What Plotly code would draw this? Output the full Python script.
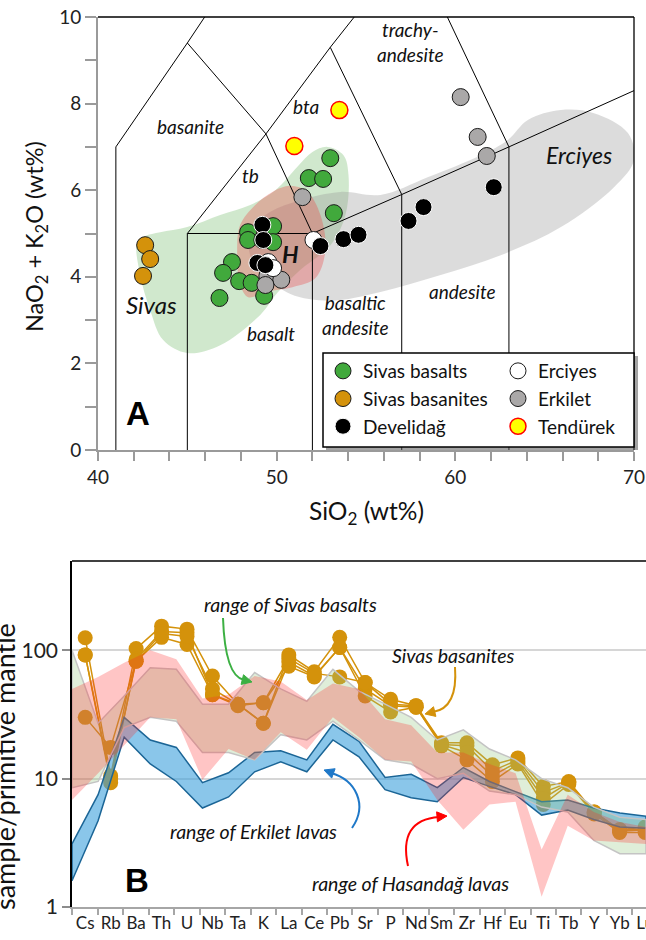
import math
import plotly.graph_objects as go

W, H = 646, 940
def PX(x): return x / W
def PY(y): return 1 - y / H

FONT = "Lato"

# ---------------- Panel A data (TAS) ----------------
SIVAS_BAS_SIO2 = [53.0, 51.8, 52.6, 53.2, 48.4, 49.8, 48.4, 49.2, 49.8, 47.5, 47.0, 47.9, 48.6, 49.3, 46.8, 49.5]
SIVAS_BAS_ALK = [6.74, 6.28, 6.26, 5.47, 5.03, 5.17, 4.85, 4.85, 4.80, 4.34, 4.09, 3.90, 3.86, 3.56, 3.51, 4.16]
SIVAS_BSN_SIO2 = [42.64, 42.92, 42.52]
SIVAS_BSN_ALK = [4.73, 4.41, 4.02]
DEVELI_SIO2 = [49.20, 49.25, 48.92, 49.37, 52.45, 53.74, 54.58, 57.38, 58.22, 62.15]
DEVELI_ALK = [5.20, 4.85, 4.32, 4.27, 4.71, 4.87, 4.97, 5.29, 5.61, 6.07]
ERCIYES_SIO2 = [52.06, 49.53, 49.80]
ERCIYES_ALK = [4.85, 4.34, 4.20]
ERKILET_SIO2 = [51.44, 60.30, 61.25, 61.76, 49.65, 49.48, 50.26, 49.37]
ERKILET_ALK = [5.84, 8.15, 7.23, 6.79, 4.23, 4.02, 3.93, 3.81]
TENDUREK_SIO2 = [50.99, 53.51]
TENDUREK_ALK = [7.02, 7.85]

# field boundaries (SiO2, alkali)
TAS_LINES = [
    [(41, 0), (41, 7), (45, 9.4), (48.4, 11.5)],
    [(45, 0), (45, 5), (52, 5), (57, 5.9), (63, 7), (70, 8.3)],
    [(45, 5), (49.4, 7.3), (53, 9.3), (57.6, 11.7)],
    [(45, 9.4), (49.4, 7.3), (52, 5)],
    [(52, 0), (52, 5)],
    [(57, 0), (57, 5.9)],
    [(63, 0), (63, 7)],
    [(53, 9.3), (57, 5.9)],
    [(57.6, 11.7), (63, 7)],
]

# shaded fields
GREEN_FIELD = [(42.19, 4.78), (42.36, 4.04), (42.92, 3.23), (43.65, 2.54), (44.99, 2.24), (46.84, 2.42),
               (49.08, 3.12), (50.04, 3.63), (51.33, 4.16), (53.01, 4.73), (53.85, 5.43), (54.02, 6.35),
               (53.74, 6.81), (52.84, 7.00), (52.00, 6.88), (51.16, 6.54), (49.93, 6.00), (48.52, 5.66),
               (46.84, 5.43), (44.99, 5.15), (43.48, 5.03), (42.64, 4.94)]
GRAY_FIELD = [(48.52, 5.08), (49.65, 5.50), (51.33, 5.77), (53.57, 5.96), (55.81, 5.89), (58.45, 6.30),
              (61.42, 6.81), (62.94, 7.16), (64.06, 7.62), (65.91, 7.85), (67.76, 7.78), (69.66, 7.32),
              (70.0, 6.70), (68.88, 6.07), (65.91, 5.15), (62.54, 4.50), (59.18, 4.04), (55.81, 3.65),
              (53.01, 3.45), (50.77, 3.60), (49.37, 4.04), (48.52, 4.50)]
RED_FIELD = [(50.77, 6.10), (51.72, 5.96), (52.45, 5.43), (52.73, 4.62), (52.17, 3.97), (50.88, 3.76),
             (49.36, 3.65), (48.41, 3.53), (47.96, 3.81), (47.79, 4.62), (47.96, 5.20), (48.80, 5.66),
             (49.76, 5.96)]

# ---------------- Panel B data (spider) ----------------
ELEMENTS = ["Cs", "Rb", "Ba", "Th", "U", "Nb", "Ta", "K", "La", "Ce", "Pb", "Sr", "P", "Nd", "Sm",
            "Zr", "Hf", "Eu", "Ti", "Tb", "Y", "Yb", "Lu"]
BASANITE_1 = [125, 10.5, 103, 154, 146, 63, 38, 27, 92, 68, 126, 56, 41.5, 37, 19, 19, 12.8, 14.5, 8.7, 9.5, 5.5, 4.0, 4.2]
BASANITE_2 = [92, 9.3, 85, 140, 137, 45, 38, 27, 81, 63, 105, 50, 37, 36, 18.4, 18, 11.5, 14, 7.8, 9.3, 5.5, 3.9, 4.0]
BASANITE_3 = [92, 10.0, 82, 126, 111, 45, 37, 39, 75, 62, 105, 44, 33, 36, 18, 14, 9.5, 13, 6.3, 9.0, 5.3, 3.8, 3.8]
BASANITE_4 = [30, 17.5, 82, 135, 128, 50, 38, 39, 86, 66, 62, 56, 38, 37, 18.4, 16, 10.5, 13.5, 7.0, 9.3, 5.4, 4.0, 4.0]

ERKILET_HI = [3.1, 7.5, 30, 20, 17.5, 9.3, 11.1, 16, 16.5, 14, 26.5, 19.5, 10.2, 10.8, 8.5, 12.2, 9.5, 7.9, 6.6, 6.8, 5.9, 5.4, 5.1]
ERKILET_LO = [1.6, 4.7, 21, 13, 9.5, 5.9, 7.2, 11.3, 13.5, 11.3, 20, 14.8, 8.2, 7.1, 6.6, 10.2, 8.7, 7.5, 5.2, 5.7, 4.8, 4.2, 4.1]
SIVAS_HI = [100, 27, 44, 73, 71, 38, 38, 67, 50, 40, 71, 48, 38, 30, 20, 24, 17, 14, 10, 8.5, 6.0, 5.0, 4.8]
SIVAS_LO = [8.5, 9.5, 25, 30, 28, 16, 16, 14, 22, 20, 28, 20, 14, 13, 10, 11, 8, 7.5, 6, 5.5, 3.3, 2.6, 2.6]
HASAN_HI = [50, 62, 80, 100, 85, 42, 45, 63, 57, 41, 55, 50, 29, 26, 16, 16, 13, 11, 2.8, 7.5, 5.5, 4.6, 4.2]
HASAN_LO = [6.8, 11, 18, 30, 29, 9.8, 17, 14, 23, 16.8, 30, 21, 14, 13.6, 6.8, 4.0, 6.3, 6.6, 1.2, 4.3, 3.3, 3.2, 3.1]

GREEN = "#41a93c"
GOLD = "#d4920b"
GRAYPT = "#aaa8a8"

fig = go.Figure()

def field(poly, color):
    xs = [p[0] for p in poly] + [poly[0][0]]
    ys = [p[1] for p in poly] + [poly[0][1]]
    return go.Scatter(x=xs, y=ys, mode="lines", line=dict(width=0, shape="spline", smoothing=1.0),
                      fill="toself", fillcolor=color, hoverinfo="skip", showlegend=False,
                      xaxis="x", yaxis="y")

fig.add_trace(field(GREEN_FIELD, "rgba(100,180,90,0.30)"))
fig.add_trace(field(GRAY_FIELD, "rgba(150,150,150,0.33)"))
fig.add_trace(field(RED_FIELD, "rgba(235,70,70,0.34)"))

for seg in TAS_LINES:
    fig.add_trace(go.Scatter(x=[p[0] for p in seg], y=[p[1] for p in seg], mode="lines",
                             line=dict(color="black", width=1), hoverinfo="skip", showlegend=False,
                             xaxis="x", yaxis="y"))

def pts(x, y, name, fill, edge, legend, rank, size=17, lw=1):
    return go.Scatter(x=x, y=y, mode="markers", name=name,
                      marker=dict(size=size, color=fill, line=dict(color=edge, width=lw)),
                      legend=legend, legendrank=rank, xaxis="x", yaxis="y")

fig.add_trace(pts(SIVAS_BAS_SIO2, SIVAS_BAS_ALK, "Sivas basalts", GREEN, "#1a1a1a", "legend", 1))
fig.add_trace(pts(SIVAS_BSN_SIO2, SIVAS_BSN_ALK, "Sivas basanites", GOLD, "#1a1a1a", "legend", 2))
fig.add_trace(pts(ERKILET_SIO2, ERKILET_ALK, "Erkilet", GRAYPT, "#1a1a1a", "legend2", 2))
fig.add_trace(pts(ERCIYES_SIO2, ERCIYES_ALK, "Erciyes", "white", "#1a1a1a", "legend2", 1))
fig.add_trace(pts(DEVELI_SIO2, DEVELI_ALK, "Develidağ", "black", "white", "legend", 3))
fig.add_trace(pts(TENDUREK_SIO2, TENDUREK_ALK, "Tendürek", "#ffff00", "#ff0000", "legend2", 3, lw=1.5))

for s in [BASANITE_1, BASANITE_2, BASANITE_3, BASANITE_4]:
    fig.add_trace(go.Scatter(x=ELEMENTS, y=s, mode="lines+markers",
                             line=dict(color=GOLD, width=1.5), marker=dict(size=15, color=GOLD),
                             showlegend=False, xaxis="x2", yaxis="y2"))

def band(hi, lo, fillc, linec, lw):
    xs = ELEMENTS + ELEMENTS[::-1] + [ELEMENTS[0]]
    ys = hi + lo[::-1] + [hi[0]]
    return go.Scatter(x=xs, y=ys, mode="lines", fill="toself", fillcolor=fillc,
                      line=dict(color=linec, width=lw), hoverinfo="skip", showlegend=False,
                      xaxis="x3", yaxis="y2")

fig.add_trace(band(ERKILET_HI, ERKILET_LO, "rgba(60,160,220,0.6)", "#1b6596", 1.5))
fig.add_trace(band(SIVAS_HI, SIVAS_LO, "rgba(150,200,130,0.30)", "#c4c4c4", 1.5))
fig.add_trace(band(HASAN_HI, HASAN_LO, "rgba(255,40,40,0.27)", "rgba(0,0,0,0)", 0))

axis_gray = "#9a9a9a"
tickfont = dict(family=FONT, size=19, color="#222")

fig.update_layout(
    width=W, height=H, margin=dict(l=0, r=0, t=0, b=0, autoexpand=False),
    paper_bgcolor="white", plot_bgcolor="rgba(0,0,0,0)",
    font=dict(family=FONT, color="#111"),
    xaxis=dict(domain=[PX(98), PX(634)], range=[40, 70], anchor="y", tickvals=[40, 50, 60, 70],
               ticks="outside", ticklen=9, tickcolor=axis_gray, tickwidth=1.5, automargin=False,
               showline=True, linecolor=axis_gray, linewidth=2, showgrid=False, zeroline=False,
               minor=dict(dtick=2, ticks="outside", ticklen=9, tickcolor=axis_gray, tickwidth=1.5, showgrid=False),
               tickfont=tickfont),
    yaxis=dict(domain=[PY(450), PY(17)], range=[0, 10], anchor="x", dtick=2, automargin=False,
               ticks="outside", ticklen=11, tickcolor=axis_gray, tickwidth=1.5,
               showline=True, linecolor=axis_gray, linewidth=2, showgrid=False, zeroline=False,
               minor=dict(dtick=1, ticks="outside", ticklen=11, tickcolor=axis_gray, tickwidth=1.5, showgrid=False),
               tickfont=tickfont),
    xaxis2=dict(domain=[PX(72), 1.0], anchor="y2", type="category", categoryorder="array",
                categoryarray=ELEMENTS, range=[-0.519, 22.035], tickson="boundaries", tickangle=0,
                ticks="outside", ticklen=6, tickcolor="#a6a6a6", tickwidth=1.5, automargin=False,
                showline=True, linecolor="#a6a6a6", linewidth=2, showgrid=False,
                tickfont=dict(family=FONT, size=17, color="#222")),
    xaxis3=dict(overlaying="x2", anchor="y2", type="category", categoryorder="array",
                categoryarray=ELEMENTS, range=[0, 22], visible=False, automargin=False),
    yaxis2=dict(domain=[PY(907), PY(561)], anchor="x2", type="log", range=[0, 2.695],
                tickvals=[1, 10, 100], ticktext=["1", "10", "100"], ticks="outside", ticklen=8,
                tickcolor="#8c8c8c", tickwidth=1.5, showline=True, linecolor="black", linewidth=1.5,
                showgrid=True, gridcolor="#d6d6d6", gridwidth=1.5, zeroline=False, automargin=False,
                tickfont=dict(family=FONT, size=21, color="#222")),
    legend=dict(x=PX(323), y=PY(352), xanchor="left", yanchor="top", bgcolor="rgba(0,0,0,0)",
                borderwidth=0, font=dict(family=FONT, size=19, color="#111"), tracegroupgap=0),
    legend2=dict(x=PX(498), y=PY(352), xanchor="left", yanchor="top", bgcolor="rgba(0,0,0,0)",
                 borderwidth=0, font=dict(family=FONT, size=19, color="#111"), tracegroupgap=0),
)

shapes = [
    dict(type="line", xref="paper", yref="paper", x0=PX(98), y0=PY(17), x1=PX(634), y1=PY(17),
         line=dict(color="black", width=1.3), layer="above"),
    dict(type="line", xref="paper", yref="paper", x0=PX(634), y0=PY(17), x1=PX(634), y1=PY(450),
         line=dict(color="black", width=1.3), layer="above"),
    dict(type="rect", xref="paper", yref="paper", x0=PX(326), y0=PY(450), x1=PX(638), y1=PY(356),
         fillcolor="rgba(90,90,90,0.55)", line=dict(width=0), layer="above"),
    dict(type="rect", xref="paper", yref="paper", x0=PX(323), y0=PY(447), x1=PX(634), y1=PY(353),
         fillcolor="white", line=dict(color="black", width=1.5), layer="above"),
    dict(type="line", xref="paper", yref="paper", x0=PX(72), y0=PY(561), x1=1.0, y1=PY(561),
         line=dict(color="black", width=1.5), layer="above"),
]

def fmt(p):
    return f"{PX(p[0]):.5f},{PY(p[1]):.5f}"

def curve(path_px, color):
    parts = [tok if isinstance(tok, str) else fmt(tok) for tok in path_px]
    return dict(type="path", xref="paper", yref="paper", path=" ".join(parts),
                line=dict(color=color, width=2), layer="above")

def arrowhead(tip, frm, color, L=10, Wd=5):
    dx, dy = tip[0] - frm[0], tip[1] - frm[1]
    n = math.hypot(dx, dy)
    ux, uy = dx / n, dy / n
    bx, by = tip[0] - L * ux, tip[1] - L * uy
    p1 = (bx - Wd * uy, by + Wd * ux)
    p2 = (bx + Wd * uy, by - Wd * ux)
    return dict(type="path", xref="paper", yref="paper",
                path=f"M {fmt(tip)} L {fmt(p1)} L {fmt(p2)} Z",
                fillcolor=color, line=dict(color=color, width=1), layer="above")

GA, OA, BA, RA = "#3cb043", GOLD, "#1f78c8", "#ff0000"
shapes += [
    curve(["M", (223, 618), "Q", (225, 676), (244, 680)], GA),
    arrowhead((252, 682), (240, 679), GA),
    curve(["M", (455, 667), "Q", (458, 708), (433, 712)], OA),
    arrowhead((425, 714), (437, 711), OA),
    curve(["M", (352, 828), "C", (368, 805), (356, 780), (331, 773)], BA),
    arrowhead((324, 770), (335, 774), BA),
    curve(["M", (408, 866), "Q", (398, 820), (439, 817)], RA),
    arrowhead((447, 816), (435, 817), RA),
]
fig.update_layout(shapes=shapes)

ann = []
def t(x, y, text, size=19, ref="data", **kw):
    d = dict(x=x, y=y, text=text, showarrow=False, font=dict(family=FONT, size=size, color="#111"),
             xanchor="center", yanchor="middle")
    if ref == "data":
        d.update(xref="x", yref="y")
    else:
        d.update(xref="paper", yref="paper")
    d.update(kw)
    return d

ann += [
    t(45.16, 7.48, "<i>basanite</i>"),
    t(48.52, 6.33, "<i>tb</i>"),
    t(51.66, 7.94, "<i>bta</i>"),
    t(57.50, 9.42, "<i>trachy-</i><br><i>andesite</i>"),
    t(49.70, 2.70, "<i>basalt</i>"),
    t(54.41, 3.12, "<i>basaltic</i><br><i>andesite</i>"),
    t(60.41, 3.65, "<i>andesite</i>"),
    t(66.92, 6.81, "<i>Erciyes</i>", size=23),
    t(42.97, 3.37, "<i>Sivas</i>", size=24),
    t(50.77, 4.53, "<b><i>H</i></b>", size=23),
    dict(x=PX(138), y=PY(413), xref="paper", yref="paper", text="<b>A</b>", showarrow=False,
         font=dict(family="Liberation Sans", size=33, color="black"), xanchor="center", yanchor="middle"),
    dict(x=PX(137), y=PY(880), xref="paper", yref="paper", text="<b>B</b>", showarrow=False,
         font=dict(family="Liberation Sans", size=33, color="black"), xanchor="center", yanchor="middle"),
    t(PX(36), PY(237), "NaO<sub>2</sub> + K<sub>2</sub>O (wt%)", size=23.5, ref="paper", textangle=-90),
    t(PX(366), PY(512), "SiO<sub>2</sub> (wt%)", size=24.5, ref="paper"),
    t(PX(4), PY(767), "sample/primitive mantle", size=27, ref="paper", textangle=-90),
    t(PX(290), PY(604), "<i>range of Sivas basalts</i>", size=19.5, ref="paper"),
    t(PX(453), PY(655), "<i>Sivas basanites</i>", size=19.5, ref="paper"),
    t(PX(253), PY(831), "<i>range of Erkilet lavas</i>", size=19.5, ref="paper"),
    t(PX(410), PY(883), "<i>range of Hasandağ lavas</i>", size=19.5, ref="paper"),
]
fig.update_layout(annotations=ann)

fig.write_html("out.html")
